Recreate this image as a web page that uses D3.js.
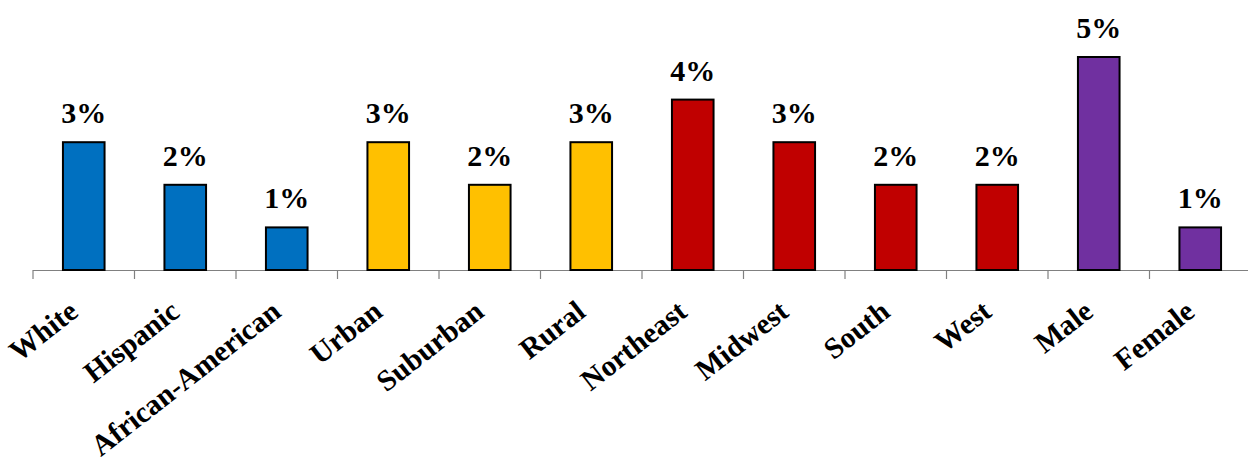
<!DOCTYPE html>
<html><head><meta charset="utf-8">
<script src="https://cdn.jsdelivr.net/npm/d3@7"></script>
<style>body{margin:0;background:#fff}svg{display:block}</style>
</head><body>
<svg id="c" width="1248" height="463"></svg>
<script>
const categories = ["White","Hispanic","African-American","Urban","Suburban","Rural","Northeast","Midwest","South","West","Male","Female"];
const values = [3,2,1,3,2,3,4,3,2,2,5,1];
const colors = ["#0070C0","#0070C0","#0070C0","#FFC000","#FFC000","#FFC000","#C00000","#C00000","#C00000","#C00000","#7030A0","#7030A0"];

const svg = d3.select("#c");
const x = d3.scaleBand().domain(categories).range([33, 33+101.5*12]).paddingInner(0.59).paddingOuter(0.295);
const y = d3.scaleLinear().domain([0,5]).range([270, 57]);
const font = "'Liberation Serif','Times New Roman',serif";

// axis
const axis = d3.axisBottom(x).tickSize(0).tickFormat("");
const g = svg.append("g").attr("transform","translate(0,270)").call(axis);
g.select(".domain").attr("stroke","#808080").attr("stroke-width",1.2).attr("d",`M33,0.5H${33+101.5*12}`);
const step = x.step();
g.selectAll(".sep").data(d3.range(13)).enter().append("line")
  .attr("x1",i=>33+i*step).attr("x2",i=>33+i*step).attr("y1",0).attr("y2",9)
  .attr("stroke","#808080").attr("stroke-width",1.2);

svg.selectAll("rect.bar").data(categories).enter().append("rect")
  .attr("x",d=>x(d)).attr("width",x.bandwidth())
  .attr("y",(d,i)=>y(values[i])).attr("height",(d,i)=>y(0)-y(values[i]))
  .attr("fill",(d,i)=>colors[i]).attr("stroke","#000").attr("stroke-width",2);

svg.selectAll("text.val").data(categories).enter().append("text")
  .attr("x",d=>x(d)+x.bandwidth()/2).attr("y",(d,i)=>y(values[i])-19)
  .attr("text-anchor","middle").attr("font-family",font).attr("font-weight","bold")
  .attr("font-size",30).text((d,i)=>values[i]+"%");

svg.selectAll("text.cat").data(categories).enter().append("text")
  .attr("transform",d=>`translate(${x(d)+x.bandwidth()/2-4},${315}) rotate(-38)`)
  .attr("text-anchor","end").attr("font-family",font).attr("font-weight","bold")
  .attr("font-size",29.5).text(d=>d);
</script>
</body></html>
